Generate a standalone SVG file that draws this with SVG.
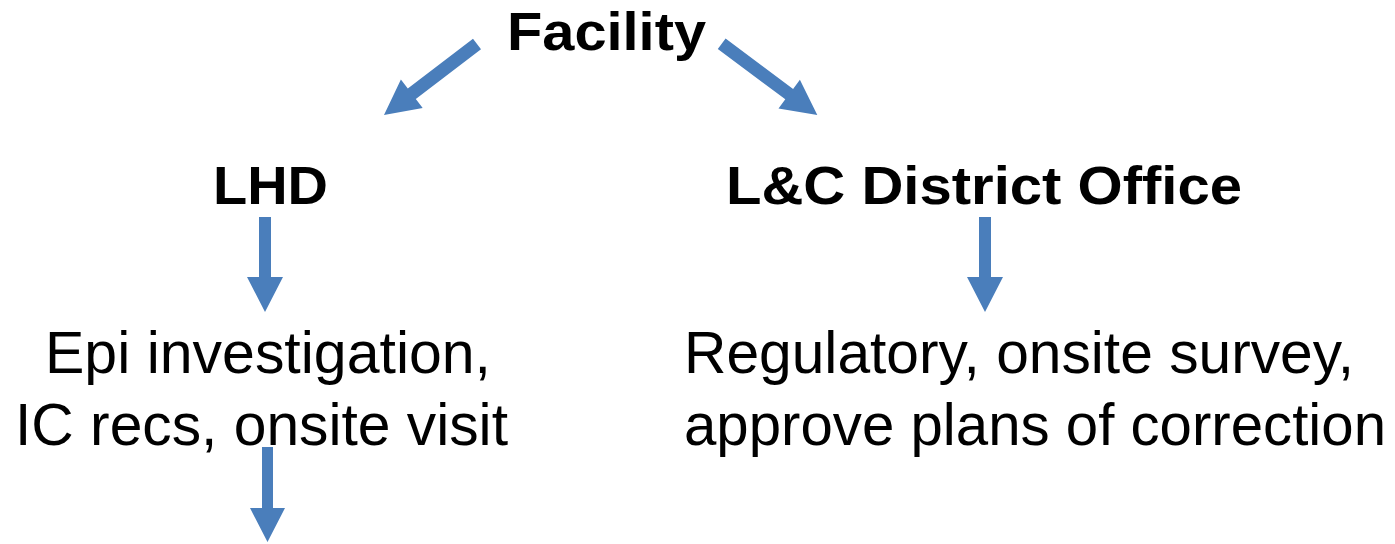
<svg xmlns="http://www.w3.org/2000/svg" width="1395" height="544" viewBox="0 0 1395 544">
<style>
.b{font-family:"Liberation Sans",Arial,sans-serif;font-weight:bold;font-size:54px;fill:#000}
.r{font-family:"Liberation Sans",Arial,sans-serif;font-size:60px;fill:#000}
.a{fill:#4A7EBB}
</style>
<rect width="1395" height="544" fill="#fff"/>
<g id="facility"><text class="b" x="507" y="50" textLength="199" lengthAdjust="spacingAndGlyphs">Facility</text></g>
<g id="lhd"><text class="b" x="213" y="204" textLength="115" lengthAdjust="spacingAndGlyphs">LHD</text></g>
<g id="lc"><text class="b" x="726" y="204" textLength="516" lengthAdjust="spacingAndGlyphs">L&amp;C District Office</text></g>
<g id="epi"><text class="r" x="45" y="373" textLength="446" lengthAdjust="spacingAndGlyphs">Epi investigation,</text><text class="r" x="15" y="445" textLength="493" lengthAdjust="spacingAndGlyphs">IC recs, onsite visit</text></g>
<g id="reg"><text class="r" x="684" y="373" textLength="670" lengthAdjust="spacingAndGlyphs">Regulatory, onsite survey,</text><text class="r" x="684" y="445" textLength="702" lengthAdjust="spacingAndGlyphs">approve plans of correction</text></g>
<g id="connectors">
<polygon class="a" points="473,38.8 481,49.2 415.8,98.9 422.7,108 384,115 400.9,79.4 407.8,88.5"/>
<polygon class="a" points="725.6,38.6 717.8,49 785.3,99.3 778.5,108.5 817.3,115 799.9,79.7 793.1,88.9"/>
<polygon class="a" points="259,217 271,217 271,277 283,277 265,312 247,277 259,277"/>
<polygon class="a" points="979,217 991,217 991,277 1003,277 985,312 967,277 979,277"/>
<polygon class="a" points="262,447 273,447 273,508 285,508 267.5,542 250,508 262,508"/>
</g>
</svg>
